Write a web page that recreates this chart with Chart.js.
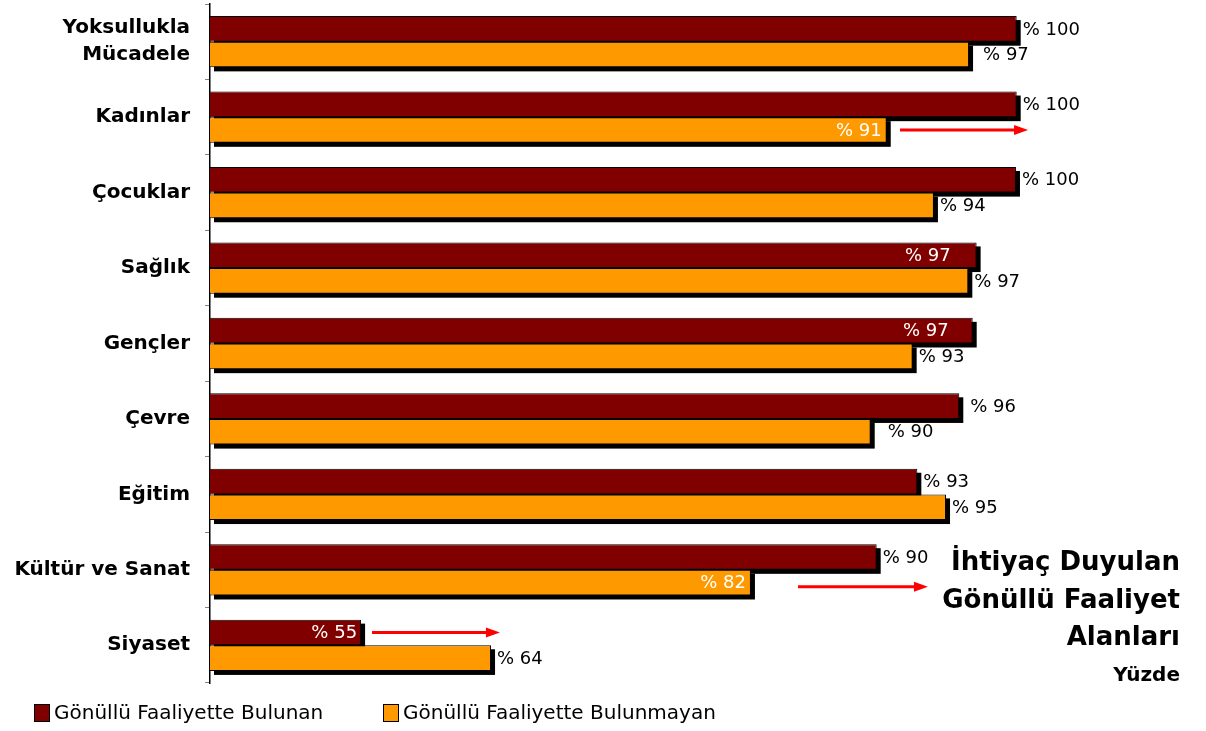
<!DOCTYPE html>
<html>
<head>
<meta charset="utf-8">
<script src="https://cdn.jsdelivr.net/npm/chart.js@4/dist/chart.umd.min.js"></script>
<style>
body { margin: 0; background: #fff; font-family: 'DejaVu Sans', sans-serif; }
#wrap { position: relative; width: 1206px; height: 731px; }
#title { position: absolute; right: 26px; top: 543px; text-align: right; font-weight: bold; color: #000; }
#title .big { font-size: 26px; line-height: 37.5px; }
#title .small { font-size: 20px; line-height: 37px; }
.lg { position: absolute; top: 701px; font-size: 20px; line-height: 22px; color: #000; white-space: nowrap; }
.lg span { display: inline-block; width: 14px; height: 16px; border: 1px solid #000; margin-right: 4px; vertical-align: -3px; }
</style>
</head>
<body>
<div id="wrap">
  <canvas id="chart" width="1206" height="731"></canvas>
  <div id="title">
    <div class="big">İhtiyaç Duyulan</div>
    <div class="big">Gönüllü Faaliyet</div>
    <div class="big">Alanları</div>
    <div class="small">Yüzde</div>
  </div>
  <div id="legend"></div>
</div>
<script>
// kategoriler ve seriler
const categories = [['Yoksullukla', 'Mücadele'], 'Kadınlar', 'Çocuklar', 'Sağlık', 'Gençler', 'Çevre', 'Eğitim', 'Kültür ve Sanat', 'Siyaset'];
const seriesNames = ['Gönüllü Faaliyette Bulunan', 'Gönüllü Faaliyette Bulunmayan'];
const bulunan = [100, 100, 99.95, 97.25, 96.98, 96.06, 93.18, 90.39, 55.0];
const bulunmayan = [96.73, 91.08, 94.32, 96.68, 92.86, 89.98, 95.15, 81.76, 63.92];

// oklar: kategori, seri, başlangıç ve bitiş değeri
const arrows = [
    { cat: 1, series: 1, from: 91.99, to: 100.78, dy: 0 },
    { cat: 7, series: 1, from: 84.99, to: 93.91, dy: 4 },
    { cat: 8, series: 0, from: 55.75, to: 64.53, dy: 0 }
];

// çubuğun içinde yazılan etiketler (kategori-seri: içeri kayma)
const insideLabels = { '1-1': 5, '3-0': 26, '4-0': 24, '7-1': 5, '8-0': 4 };
// dışarıdaki etiketler için ek boşluk
const labelNudge = { '0-1': 8, '5-0': 5, '5-1': 11 };

const colors = ['#800000', '#FF9900'];

// HTML lejant
const legendPos = [34, 383];
document.getElementById('legend').innerHTML = seriesNames.map((name, i) =>
    '<div class="lg" style="left:' + legendPos[i] + 'px"><span style="background:' + colors[i] + '"></span>' + name + '</div>'
).join('');

const shadowPlugin = {
    id: 'shadow',
    beforeDatasetsDraw(chart) {
        const ctx = chart.ctx;
        const left = chart.chartArea.left;
        ctx.save();
        ctx.fillStyle = '#000';
        chart.data.datasets.forEach((ds, i) => {
            chart.getDatasetMeta(i).data.forEach(bar => {
                const p = bar.getProps(['x', 'y', 'base', 'height'], true);
                const start = Math.max(p.base, left);
                ctx.fillRect(start + 4, p.y - p.height / 2 + 4, p.x - start, p.height);
            });
        });
        ctx.restore();
    }
};

const labelPlugin = {
    id: 'valueLabels',
    afterDatasetsDraw(chart) {
        const ctx = chart.ctx;
        ctx.save();
        ctx.font = '18px "DejaVu Sans"';
        ctx.textBaseline = 'middle';
        chart.data.datasets.forEach((ds, i) => {
            chart.getDatasetMeta(i).data.forEach((bar, j) => {
                const key = j + '-' + i;
                const text = '% ' + Math.round(ds.data[j]);
                if (insideLabels[key] !== undefined) {
                    ctx.fillStyle = '#fff';
                    ctx.textAlign = 'right';
                    ctx.fillText(text, bar.x - insideLabels[key], bar.y + 1);
                } else {
                    ctx.fillStyle = '#000';
                    ctx.textAlign = 'left';
                    ctx.fillText(text, bar.x + 6 + (labelNudge[key] || 0), bar.y + 1);
                }
            });
        });
        ctx.restore();
    }
};

const arrowPlugin = {
    id: 'arrows',
    afterDatasetsDraw(chart) {
        const ctx = chart.ctx;
        const xs = chart.scales.x;
        ctx.save();
        ctx.strokeStyle = '#FF0000';
        ctx.fillStyle = '#FF0000';
        ctx.lineWidth = 3;
        arrows.forEach(a => {
            const y = chart.getDatasetMeta(a.series).data[a.cat].y + a.dy;
            const x1 = xs.getPixelForValue(a.from);
            const x2 = xs.getPixelForValue(a.to);
            ctx.beginPath();
            ctx.moveTo(x1, y);
            ctx.lineTo(x2 - 12, y);
            ctx.stroke();
            ctx.beginPath();
            ctx.moveTo(x2, y);
            ctx.lineTo(x2 - 14, y - 5);
            ctx.lineTo(x2 - 14, y + 5);
            ctx.closePath();
            ctx.fill();
        });
        ctx.restore();
    }
};

Chart.defaults.font.family = '"DejaVu Sans", sans-serif';
Chart.defaults.color = '#000';

new Chart(document.getElementById('chart'), {
    type: 'bar',
    data: {
        labels: categories,
        datasets: [bulunan, bulunmayan].map((vals, i) => ({
            label: seriesNames[i],
            data: vals,
            backgroundColor: colors[i],
            borderColor: '#000',
            borderWidth: 1,
            borderSkipped: false,
            categoryPercentage: 0.68,
            barPercentage: 1.0
        }))
    },
    options: {
        indexAxis: 'y',
        responsive: false,
        animation: false,
        layout: { padding: { left: 0, right: 100, top: 4, bottom: 48 } },
        plugins: {
            legend: { display: false },
            tooltip: { enabled: false }
        },
        scales: {
            x: {
                display: false,
                min: 44.63,
                max: 106.13
            },
            y: {
                afterFit: s => {
                    s.width = 210;
                    s.paddingTop = 0;
                    s.paddingBottom = 0;
                },
                border: { color: '#000', width: 1.5 },
                grid: {
                    drawOnChartArea: false,
                    drawTicks: true,
                    tickLength: 5,
                    color: '#808080',
                    offset: true
                },
                ticks: {
                    padding: 15,
                    font: { size: 20, weight: 'bold', lineHeight: 1.35 },
                    color: '#000'
                }
            }
        }
    },
    plugins: [shadowPlugin, labelPlugin, arrowPlugin]
});
</script>
</body>
</html>
